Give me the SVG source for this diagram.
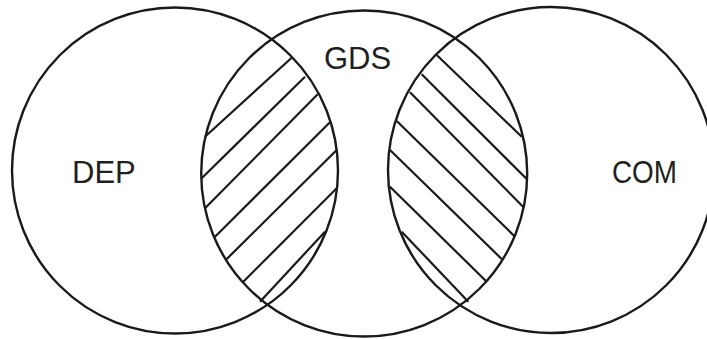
<svg xmlns="http://www.w3.org/2000/svg" width="707" height="339" viewBox="0 0 707 339">
<style>
.c{fill:none;stroke:#1a1a1a;stroke-width:2.4}
.h{stroke:#1a1a1a;stroke-width:2.2;stroke-linecap:butt}
.t{font-family:"Liberation Sans",Arial,sans-serif;font-size:31px;fill:#231f20}
</style>
<rect width="707" height="339" fill="#fff"/>
<g id="hatch-left">
<line class="h" x1="291.7" y1="57.7" x2="205" y2="136.7"/>
<line class="h" x1="305" y1="76.7" x2="201.7" y2="178.3"/>
<line class="h" x1="317.7" y1="94.3" x2="205" y2="208.3"/>
<line class="h" x1="330" y1="122.3" x2="215" y2="236.7"/>
<line class="h" x1="336.7" y1="150" x2="226.7" y2="259"/>
<line class="h" x1="336.7" y1="188.3" x2="243.3" y2="281.7"/>
<line class="h" x1="325" y1="231.7" x2="260" y2="301.7"/>
</g>
<g id="hatch-right">
<line class="h" x1="436.7" y1="55" x2="521.7" y2="136.7"/>
<line class="h" x1="421.7" y1="74.3" x2="526.7" y2="179"/>
<line class="h" x1="410" y1="92.3" x2="524" y2="207.7"/>
<line class="h" x1="396.7" y1="121" x2="515" y2="236.7"/>
<line class="h" x1="390" y1="150" x2="501.7" y2="259"/>
<line class="h" x1="390" y1="186.7" x2="486.7" y2="281.7"/>
<line class="h" x1="401.7" y1="231.7" x2="468.3" y2="301.7"/>
</g>
<g id="DEP">
<circle class="c" cx="175" cy="170.5" r="163"/>
<text class="t" x="72" y="183">DEP</text>
</g>
<g id="GDS">
<circle class="c" cx="364.2" cy="173.5" r="163"/>
<text class="t" x="324" y="69">GDS</text>
</g>
<g id="COM">
<circle class="c" cx="551" cy="170" r="163"/>
<text class="t" x="612" y="183" textLength="65" lengthAdjust="spacingAndGlyphs">COM</text>
</g>
</svg>
